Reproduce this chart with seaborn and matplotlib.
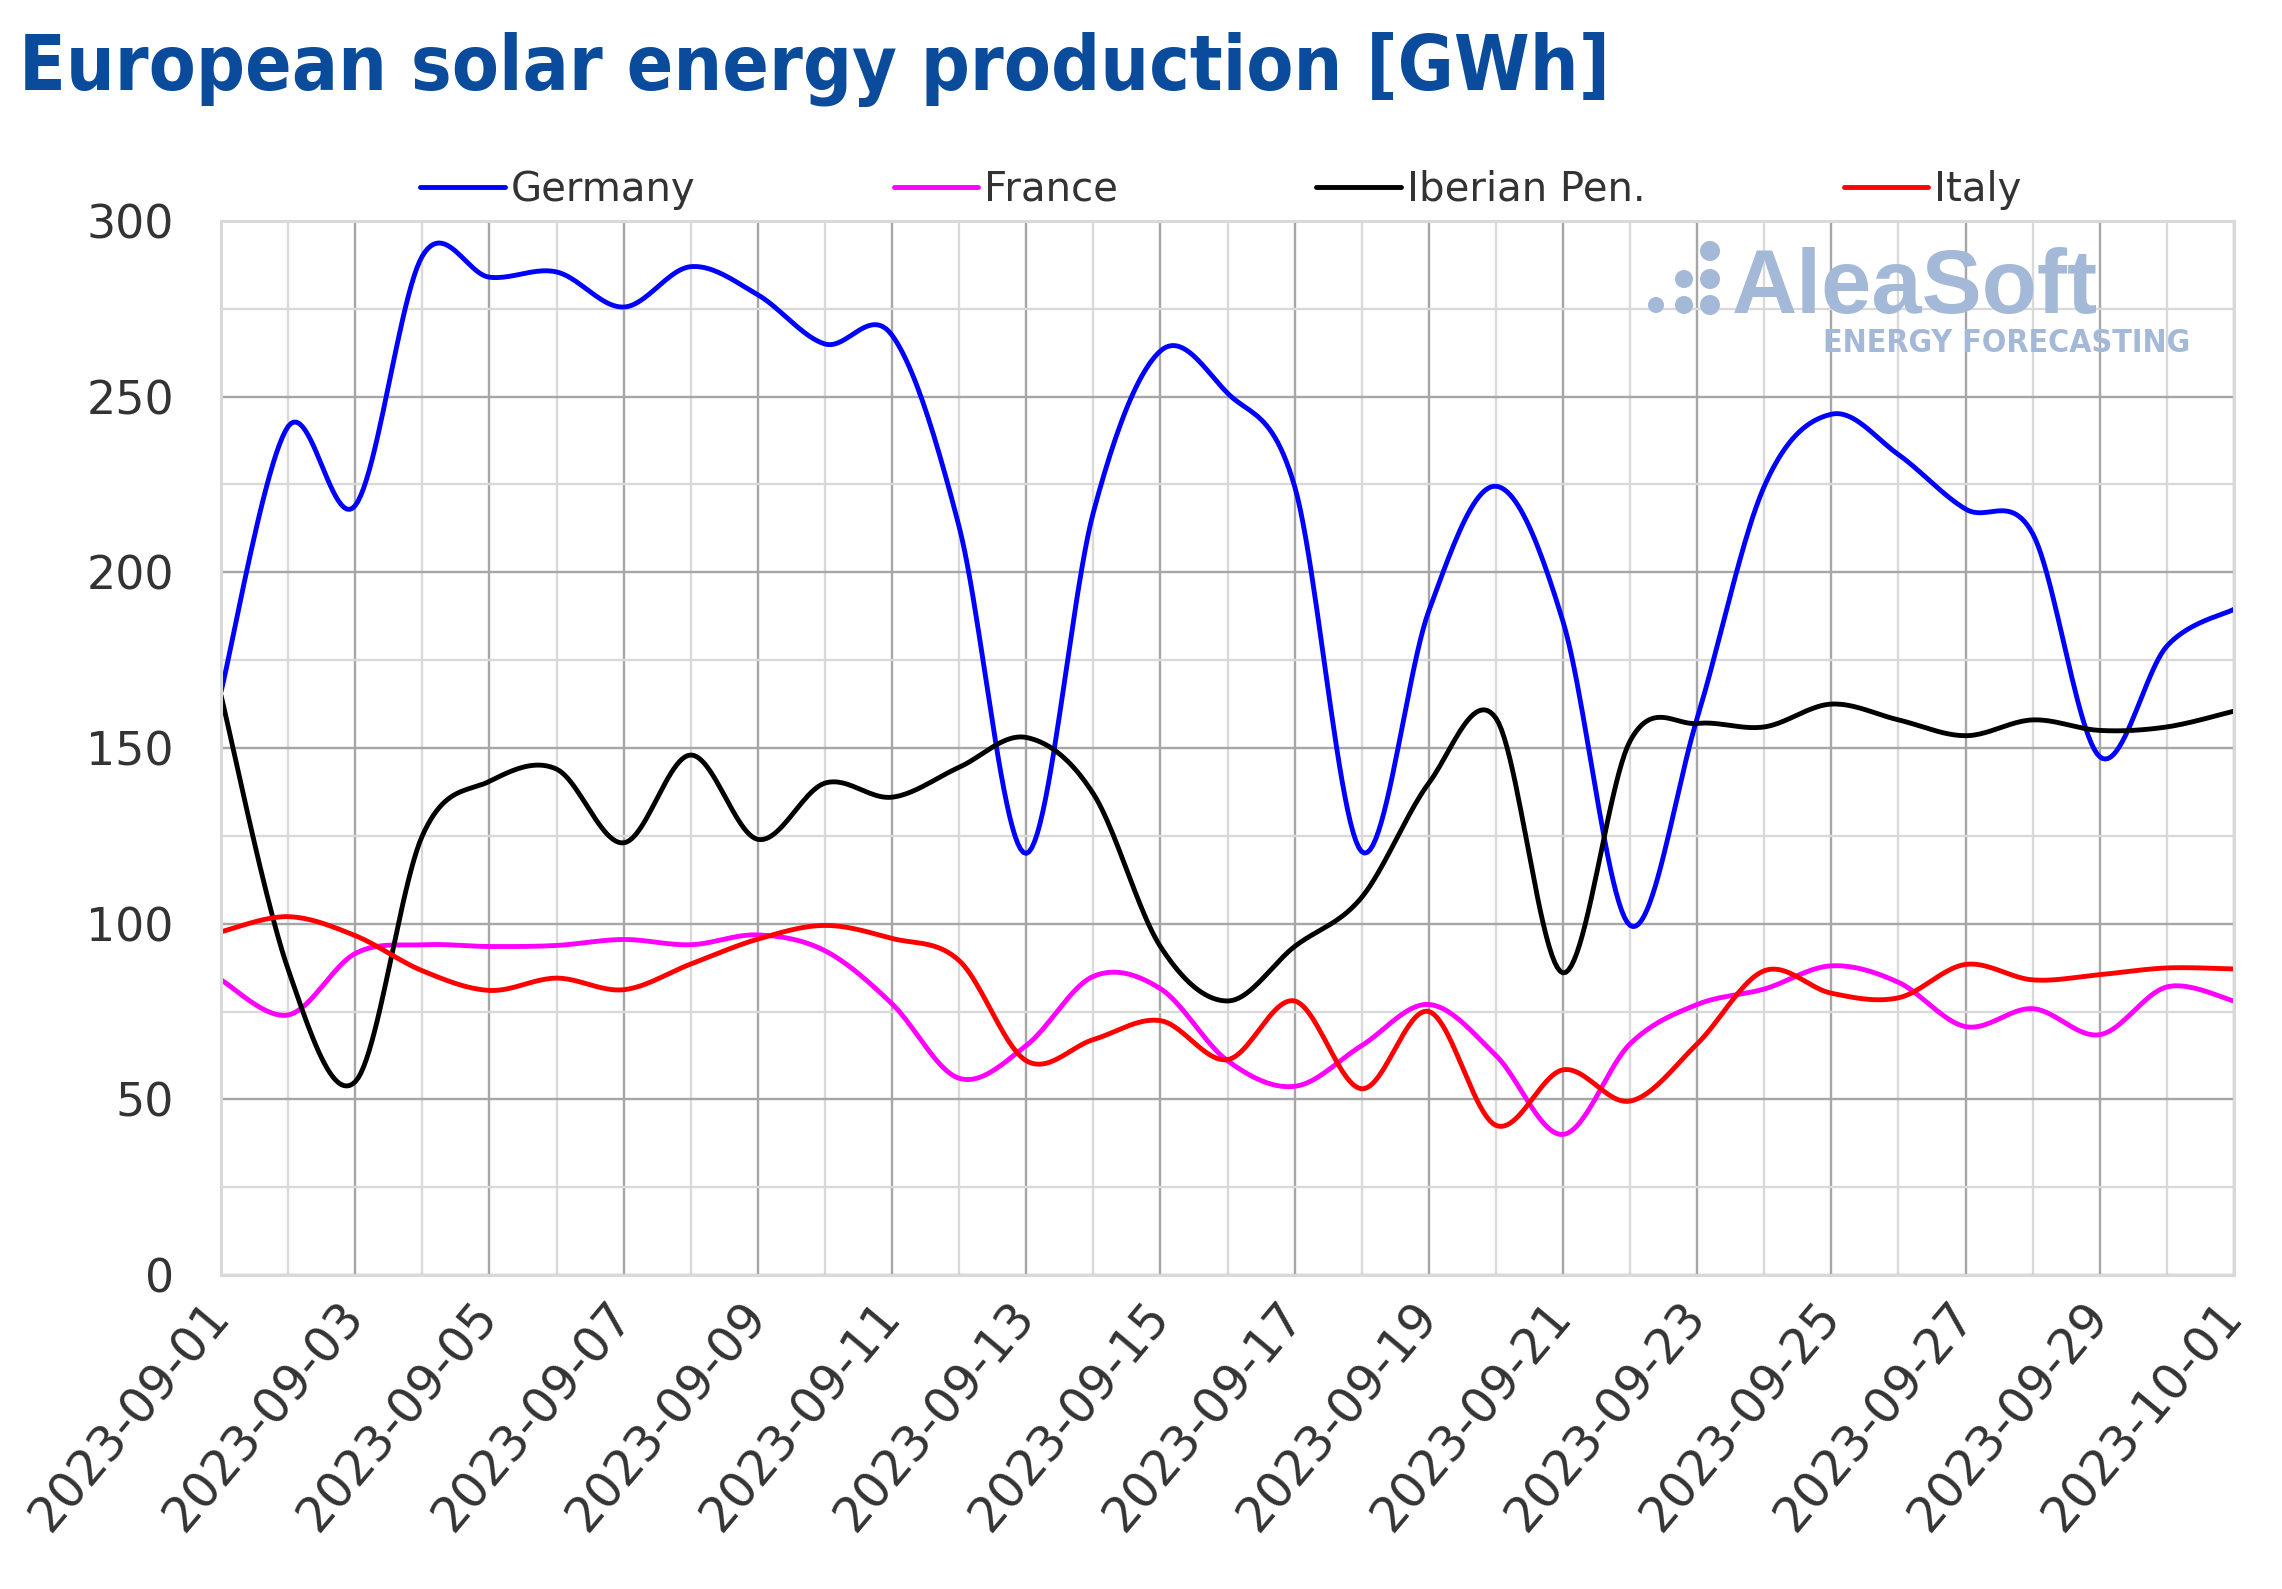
import matplotlib
matplotlib.use("Agg")
import matplotlib.pyplot as plt
from matplotlib import font_manager as fm
from matplotlib.patches import Ellipse
import numpy as np
import pandas as pd
import seaborn as sns

dates = pd.date_range("2023-09-01", "2023-10-01", freq="D")

germany = [166, 241.5, 219, 290, 284, 285.5, 275.5, 287, 279, 265,
           267.5, 213, 120, 217, 263, 251, 224.5, 120.5, 189, 224.5,
           186, 99.5, 158.5, 224.5, 245, 233.5, 218, 211, 147.5, 179, 189.5]
france = [84, 74, 91.5, 94, 93.5, 93.8, 95.5, 94, 96.8, 92.3,
          77.2, 56, 65.3, 85, 81.5, 61, 53.7, 65.3, 77, 62.5,
          40, 65.8, 77, 81.4, 88, 83.3, 70.7, 75.8, 68.4, 82, 78]
iberian = [165, 87, 55, 125, 140.5, 144, 123, 148, 124, 140,
           136, 144.5, 153, 137, 93.5, 78, 93.5, 107.5, 140, 158.5,
           86, 152, 157, 156, 162.5, 158, 153.5, 158, 155, 156, 160.5]
italy = [97.7, 102, 96.6, 86.6, 81, 84.5, 81.2, 88.5, 95.6, 99.5,
         95.8, 89.5, 61, 67, 72.4, 61.3, 78, 53, 75, 42.6,
         58.4, 49.5, 65.8, 86.6, 80.2, 78.9, 88.4, 84, 85.5, 87.4, 87.1]

series_names = ["Germany", "France", "Iberian Pen.", "Italy"]
series_values = [germany, france, iberian, italy]
series_colors = ["#0000ff", "#ff00ff", "#000000", "#ff0000"]


def smooth(y, steps=24):
    # Excel-like smoothed line (Catmull-Rom through every point)
    y = np.asarray(y, float)
    x = np.arange(len(y), dtype=float)
    px = np.concatenate([[x[0]], x, [x[-1]]])
    py = np.concatenate([[y[0]], y, [y[-1]]])
    t = np.linspace(0, 1, steps, endpoint=False)[:, None]
    out_x, out_y = [], []
    for p, out in ((px, out_x), (py, out_y)):
        p0, p1, p2, p3 = p[:-3], p[1:-2], p[2:-1], p[3:]
        seg = 0.5 * (2 * p1 + (-p0 + p2) * t
                     + (2 * p0 - 5 * p1 + 4 * p2 - p3) * t ** 2
                     + (-p0 + 3 * p1 - 3 * p2 + p3) * t ** 3)
        out.extend(seg.T.ravel().tolist() + [p[-2]])
    return out_x, out_y


def narrow_bold():
    # a condensed bold face if one is installed, else None
    for f in fm.fontManager.ttflist:
        if f.weight in (700, "bold") and f.style == "normal" and (
                "Narrow" in f.name or "Condensed" in f.name
                or f.stretch in ("condensed", "semi-condensed")):
            return fm.FontProperties(fname=f.fname)
    return None


frames = []
for name, vals in zip(series_names, series_values):
    sx, sy = smooth(vals)
    frames.append(pd.DataFrame({"day": sx, "value": sy, "series": name}))
df = pd.concat(frames, ignore_index=True)

sns.set_style("white")
plt.rcParams["font.family"] = ["DejaVu Sans"]

W, H = 2282, 1589
fig = plt.figure(figsize=(W / 100, H / 100), dpi=100)
ax = fig.add_axes([221 / W, 1 - 1275 / H, (2234 - 221) / W, (1275 - 221) / H])

sns.lineplot(data=df, x="day", y="value", hue="series", hue_order=series_names,
             palette=dict(zip(series_names, series_colors)), estimator=None,
             sort=False, linewidth=3.5, ax=ax)

ax.set_xlim(0, 30)
ax.set_ylim(0, 300)
ax.set_xlabel("")
ax.set_ylabel("")

ax.set_xticks(range(0, 31, 2))
ax.set_xticks(range(1, 30, 2), minor=True)
ax.set_xticklabels([d.strftime("%Y-%m-%d") for d in dates[::2]], fontsize=35,
                   rotation=50, ha="right", va="center", rotation_mode="anchor")
ax.set_yticks(range(0, 301, 50))
ax.set_yticks(range(25, 300, 50), minor=True)

ax.grid(which="major", color="#a6a6a6", linewidth=1.7)
ax.grid(which="minor", color="#d9d9d9", linewidth=1.7)
ax.set_axisbelow(True)
for s in ax.spines.values():
    s.set_color("#d9d9d9")
    s.set_linewidth(2.2)

ax.tick_params(axis="both", which="both", length=0, labelcolor="#333333")
ax.tick_params(axis="y", pad=34, labelsize=33)
ax.tick_params(axis="x", pad=24)

handles, labels = ax.get_legend_handles_labels()
ax.get_legend().remove()
fig.legend(handles, labels, loc="lower left", ncol=4, mode="expand",
           bbox_to_anchor=(400 / W, 1 - 230 / H, (2042 - 400) / W, 0.03),
           frameon=False, fontsize=29, handlelength=2.1, handletextpad=0.15,
           borderpad=0, labelcolor="#333333")

nb = narrow_bold()
title = "European solar energy production [GWh]"
if nb is not None:
    nb.set_size(55)
    fig.text(19 / W, 1 - 90 / H, title, fontproperties=nb,
             color="#0a4b9b", va="baseline", ha="left")
else:
    fig.text(19 / W, 1 - 88 / H, title, fontweight="bold", fontsize=48,
             color="#0a4b9b", va="baseline", ha="left")

# AleaSoft watermark
logo = "#a4b9d7"
fig.text(1732 / W, 1 - 313 / H, "AleaSoft", family=["Liberation Sans", "DejaVu Sans"],
         fontweight="bold", fontsize=65, color=logo, va="baseline", ha="left")
if nb is not None:
    sub = nb.copy()
    sub.set_size(23)
    fig.text(2190 / W, 1 - 352 / H, "ENERGY FORECASTING", fontproperties=sub,
             color=logo, va="baseline", ha="right")
else:
    fig.text(2190 / W, 1 - 352 / H, "ENERGY FORECASTING", fontweight="bold",
             fontsize=20.5, color=logo, va="baseline", ha="right")
for cx, cy, r in [(1656, 305, 8), (1684, 305, 9), (1684, 279, 9),
                  (1710, 305, 10), (1710, 279, 10), (1710, 251, 10)]:
    fig.add_artist(Ellipse((cx / W, 1 - cy / H), 2 * r / W, 2 * r / H,
                           transform=fig.transFigure, color=logo, lw=0))

fig.savefig("out.png", dpi=100)
